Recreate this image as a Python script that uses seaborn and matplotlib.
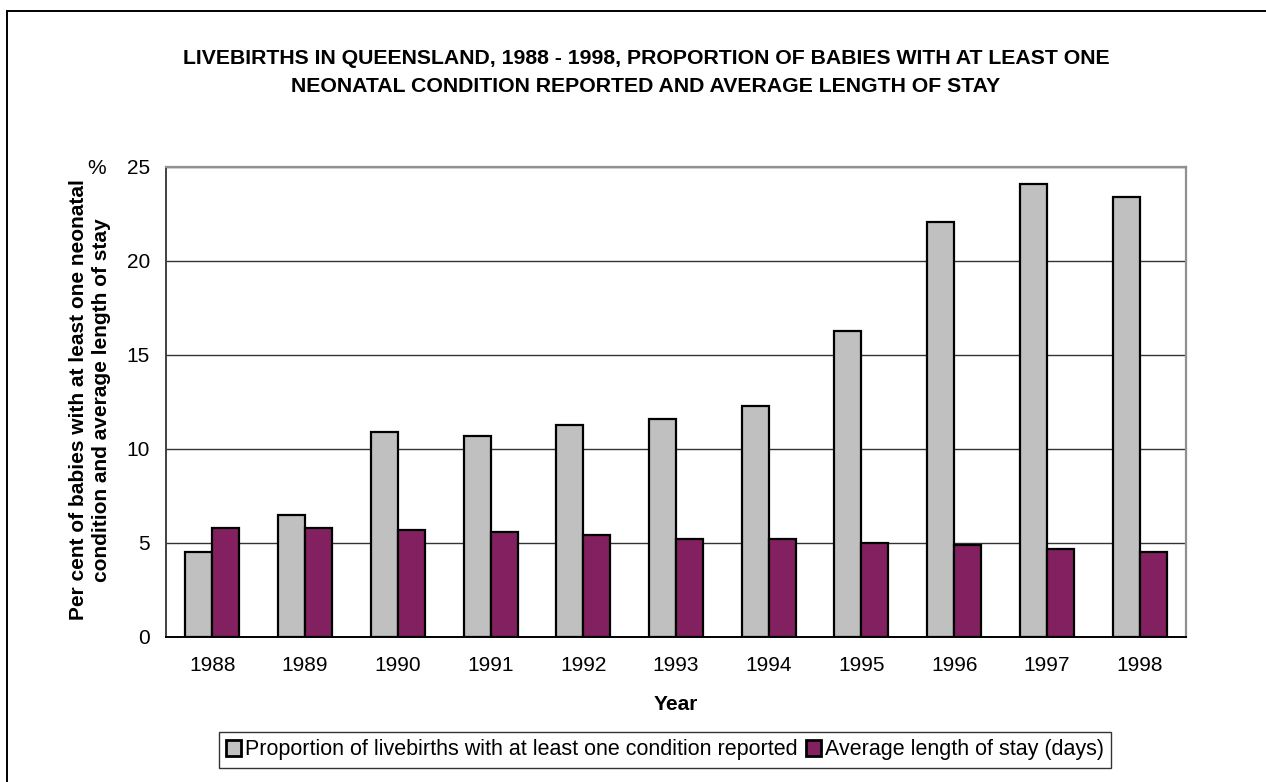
import matplotlib
matplotlib.use("Agg")
import matplotlib.pyplot as plt
import matplotlib.patches as mpatches
import seaborn as sns
import pandas as pd
import numpy as np

years = ["1988", "1989", "1990", "1991", "1992", "1993", "1994", "1995", "1996", "1997", "1998"]
proportion = [4.5, 6.5, 10.9, 10.7, 11.3, 11.6, 12.3, 16.3, 22.1, 24.1, 23.4]
avg_stay = [5.8, 5.8, 5.7, 5.6, 5.4, 5.2, 5.2, 5.0, 4.9, 4.7, 4.5]
series_names = ["Proportion of livebirths with at least one condition reported",
                "Average length of stay (days)"]
colors = ["#C0C0C0", "#832160"]
yticks = [0, 5, 10, 15, 20, 25]

df = pd.DataFrame({
    "Year": years * 2,
    "Value": proportion + avg_stay,
    "Series": [series_names[0]] * len(years) + [series_names[1]] * len(years),
})

sns.set_theme(style="white")
plt.rcParams["font.family"] = ["Liberation Sans", "DejaVu Sans"]
plt.rcParams["text.color"] = "black"
plt.rcParams["axes.labelcolor"] = "black"
plt.rcParams["xtick.color"] = "black"
plt.rcParams["ytick.color"] = "black"

W, H = 1266, 782
fig = plt.figure(figsize=(W / 100, H / 100), dpi=100)
ax = fig.add_axes([166 / W, 1 - 637 / H, (1186 - 166) / W, (637 - 167) / H])

sns.barplot(data=df, x="Year", y="Value", hue="Series", order=years,
            hue_order=series_names, palette=colors, width=0.583,
            edgecolor="black", linewidth=1.6, saturation=1, ax=ax, zorder=3)

handles, labels = ax.get_legend_handles_labels()
if ax.get_legend() is not None:
    ax.get_legend().remove()

ax.set_ylim(0, 25)
ax.set_xlim(-0.5, len(years) - 0.5)
ax.set_yticks(yticks)
ax.set_yticklabels([str(t) for t in yticks], fontsize=15, color="black")
ax.set_xlabel("")
ax.set_ylabel("")

# gridlines
ax.yaxis.grid(True, color="#333333", linewidth=1.0, zorder=0)
ax.set_axisbelow(True)
ax.xaxis.grid(False)

# spines
ax.spines["top"].set_color("#909090")
ax.spines["right"].set_color("#909090")
ax.spines["top"].set_linewidth(1.6)
ax.spines["right"].set_linewidth(1.6)
ax.spines["left"].set_color("#404040")
ax.spines["left"].set_linewidth(1.4)
ax.spines["bottom"].set_color("black")
ax.spines["bottom"].set_linewidth(1.4)

# ticks
ax.tick_params(axis="x", which="major", length=0, labelsize=15, pad=14, labelcolor="black")
ax.set_xticks(np.arange(-0.5, len(years), 1.0), minor=True)
ax.tick_params(axis="x", which="minor", length=9, width=1.0, direction="inout", color="black")
ax.tick_params(axis="y", which="major", length=7, width=1.0, direction="inout", color="#404040",
               labelcolor="black", pad=8)

# texts
fig.text(646 / W, 1 - 58 / H, "LIVEBIRTHS IN QUEENSLAND, 1988 - 1998, PROPORTION OF BABIES WITH AT LEAST ONE",
         ha="center", va="center", fontsize=15.3, fontweight="bold", color="black")
fig.text(646 / W, 1 - 86 / H, "NEONATAL CONDITION REPORTED AND AVERAGE LENGTH OF STAY",
         ha="center", va="center", fontsize=15.3, fontweight="bold", color="black")
fig.text(90 / W, 1 - 400 / H,
         "Per cent of babies with at least one neonatal\ncondition and average length of stay",
         rotation=90, ha="center", va="center", fontsize=15, fontweight="bold",
         multialignment="center", linespacing=1.25, color="black")
fig.text(97 / W, 1 - 168 / H, "%", ha="center", va="center", fontsize=15, color="black")
fig.text(676 / W, 1 - 705 / H, "Year", ha="center", va="center", fontsize=15,
         fontweight="bold", color="black")

leg = fig.legend(handles, labels, loc="center", bbox_to_anchor=(665 / W, 1 - 750 / H),
                 ncol=2, frameon=True, fancybox=False, fontsize=15.5,
                 handlelength=0.7, handleheight=0.7, handletextpad=0.2,
                 columnspacing=0.35, borderpad=0.33, borderaxespad=0)
leg.get_frame().set_edgecolor("black")
leg.get_frame().set_linewidth(1.0)
for t in leg.get_texts():
    t.set_color("black")
for h in leg.legend_handles:
    h.set_edgecolor("black")
    h.set_linewidth(2.0)

# outer frame (extends beyond right and bottom edges)
frame = mpatches.Rectangle((7 / W, -0.2), 1.5, 1 - 11 / H + 0.2, transform=fig.transFigure,
                           fill=False, edgecolor="black", linewidth=1.4, clip_on=False)
fig.add_artist(frame)

fig.savefig("out.png", dpi=100, facecolor="white")
